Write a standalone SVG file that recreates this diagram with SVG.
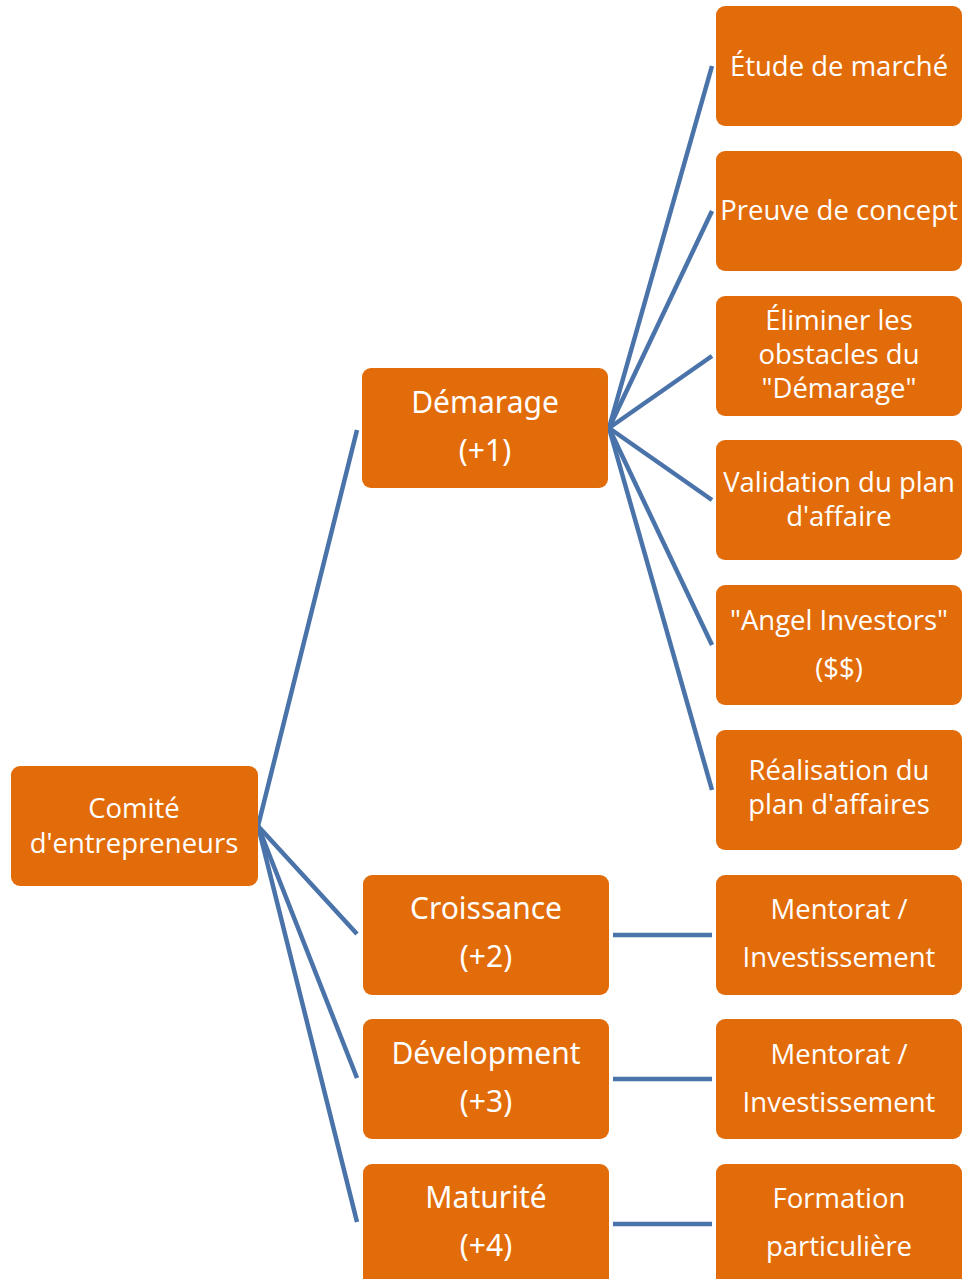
<svg xmlns="http://www.w3.org/2000/svg" width="964" height="1279" viewBox="0 0 964 1279">
  <style>
    .box { fill: #E36C0A; }
    .link { stroke: #4A73AA; stroke-width: 4.5; fill: none; stroke-linecap: butt; }
    .lbl { fill: #FFFFFF; font-family: "Open Sans", "Noto Sans", sans-serif; font-size: 27.5px; text-anchor: middle; }
    .mid { fill: #FFFFFF; font-family: "Noto Sans", "DejaVu Sans", sans-serif; font-size: 30px; text-anchor: middle; }
  </style>
  <rect width="964" height="1279" fill="#FFFFFF"/>

  <!-- connectors -->
  <g id="connectors">
    <path class="link" d="M258 826 L357 430"/>
    <path class="link" d="M258 826 L357 934"/>
    <path class="link" d="M258 826 L357 1078"/>
    <path class="link" d="M258 826 L357 1222"/>
    <path class="link" d="M609 428 L712 66"/>
    <path class="link" d="M609 428 L712 211"/>
    <path class="link" d="M609 428 L712 356"/>
    <path class="link" d="M609 428 L712 500"/>
    <path class="link" d="M609 428 L712 645"/>
    <path class="link" d="M609 428 L712 790"/>
    <path class="link" d="M613 935 L712 935"/>
    <path class="link" d="M613 1079 L712 1079"/>
    <path class="link" d="M613 1224 L712 1224"/>
  </g>

  <!-- root -->
  <g id="comite">
    <rect class="box" x="11" y="766" width="247" height="120" rx="9"/>
    <text class="lbl" x="134" y="818">Comité</text>
    <text class="lbl" x="134" y="853">d'entrepreneurs</text>
  </g>

  <!-- stages -->
  <g id="demarage">
    <rect class="box" x="362" y="368" width="246" height="120" rx="9"/>
    <text class="mid" x="485" y="413">Démarage</text>
    <text class="mid" x="485" y="461">(+1)</text>
  </g>
  <g id="croissance">
    <rect class="box" x="363" y="875" width="246" height="120" rx="9"/>
    <text class="mid" x="486" y="919">Croissance</text>
    <text class="mid" x="486" y="967">(+2)</text>
  </g>
  <g id="development">
    <rect class="box" x="363" y="1019" width="246" height="120" rx="9"/>
    <text class="mid" x="486" y="1064">Dévelopment</text>
    <text class="mid" x="486" y="1112">(+3)</text>
  </g>
  <g id="maturite">
    <rect class="box" x="363" y="1164" width="246" height="125" rx="9"/>
    <text class="mid" x="486" y="1208">Maturité</text>
    <text class="mid" x="486" y="1256">(+4)</text>
  </g>

  <!-- actions -->
  <g id="etude">
    <rect class="box" x="716" y="6" width="246" height="120" rx="9"/>
    <text class="lbl" x="839" y="76">Étude de marché</text>
  </g>
  <g id="preuve">
    <rect class="box" x="716" y="151" width="246" height="120" rx="9"/>
    <text class="lbl" x="839" y="220">Preuve de concept</text>
  </g>
  <g id="eliminer">
    <rect class="box" x="716" y="296" width="246" height="120" rx="9"/>
    <text class="lbl" x="839" y="330">Éliminer les</text>
    <text class="lbl" x="839" y="364">obstacles du</text>
    <text class="lbl" x="839" y="398">"Démarage"</text>
  </g>
  <g id="validation">
    <rect class="box" x="716" y="440" width="246" height="120" rx="9"/>
    <text class="lbl" x="839" y="492">Validation du plan</text>
    <text class="lbl" x="839" y="526">d'affaire</text>
  </g>
  <g id="angel">
    <rect class="box" x="716" y="585" width="246" height="120" rx="9"/>
    <text class="lbl" x="839" y="630">"Angel Investors"</text>
    <text class="lbl" x="839" y="678">($$)</text>
  </g>
  <g id="realisation">
    <rect class="box" x="716" y="730" width="246" height="120" rx="9"/>
    <text class="lbl" x="839" y="780">Réalisation du</text>
    <text class="lbl" x="839" y="814">plan d'affaires</text>
  </g>
  <g id="mentorat2">
    <rect class="box" x="716" y="875" width="246" height="120" rx="9"/>
    <text class="lbl" x="839" y="919">Mentorat /</text>
    <text class="lbl" x="839" y="967">Investissement</text>
  </g>
  <g id="mentorat3">
    <rect class="box" x="716" y="1019" width="246" height="120" rx="9"/>
    <text class="lbl" x="839" y="1064">Mentorat /</text>
    <text class="lbl" x="839" y="1112">Investissement</text>
  </g>
  <g id="formation">
    <rect class="box" x="716" y="1164" width="246" height="125" rx="9"/>
    <text class="lbl" x="839" y="1208">Formation</text>
    <text class="lbl" x="839" y="1256">particulière</text>
  </g>
</svg>
